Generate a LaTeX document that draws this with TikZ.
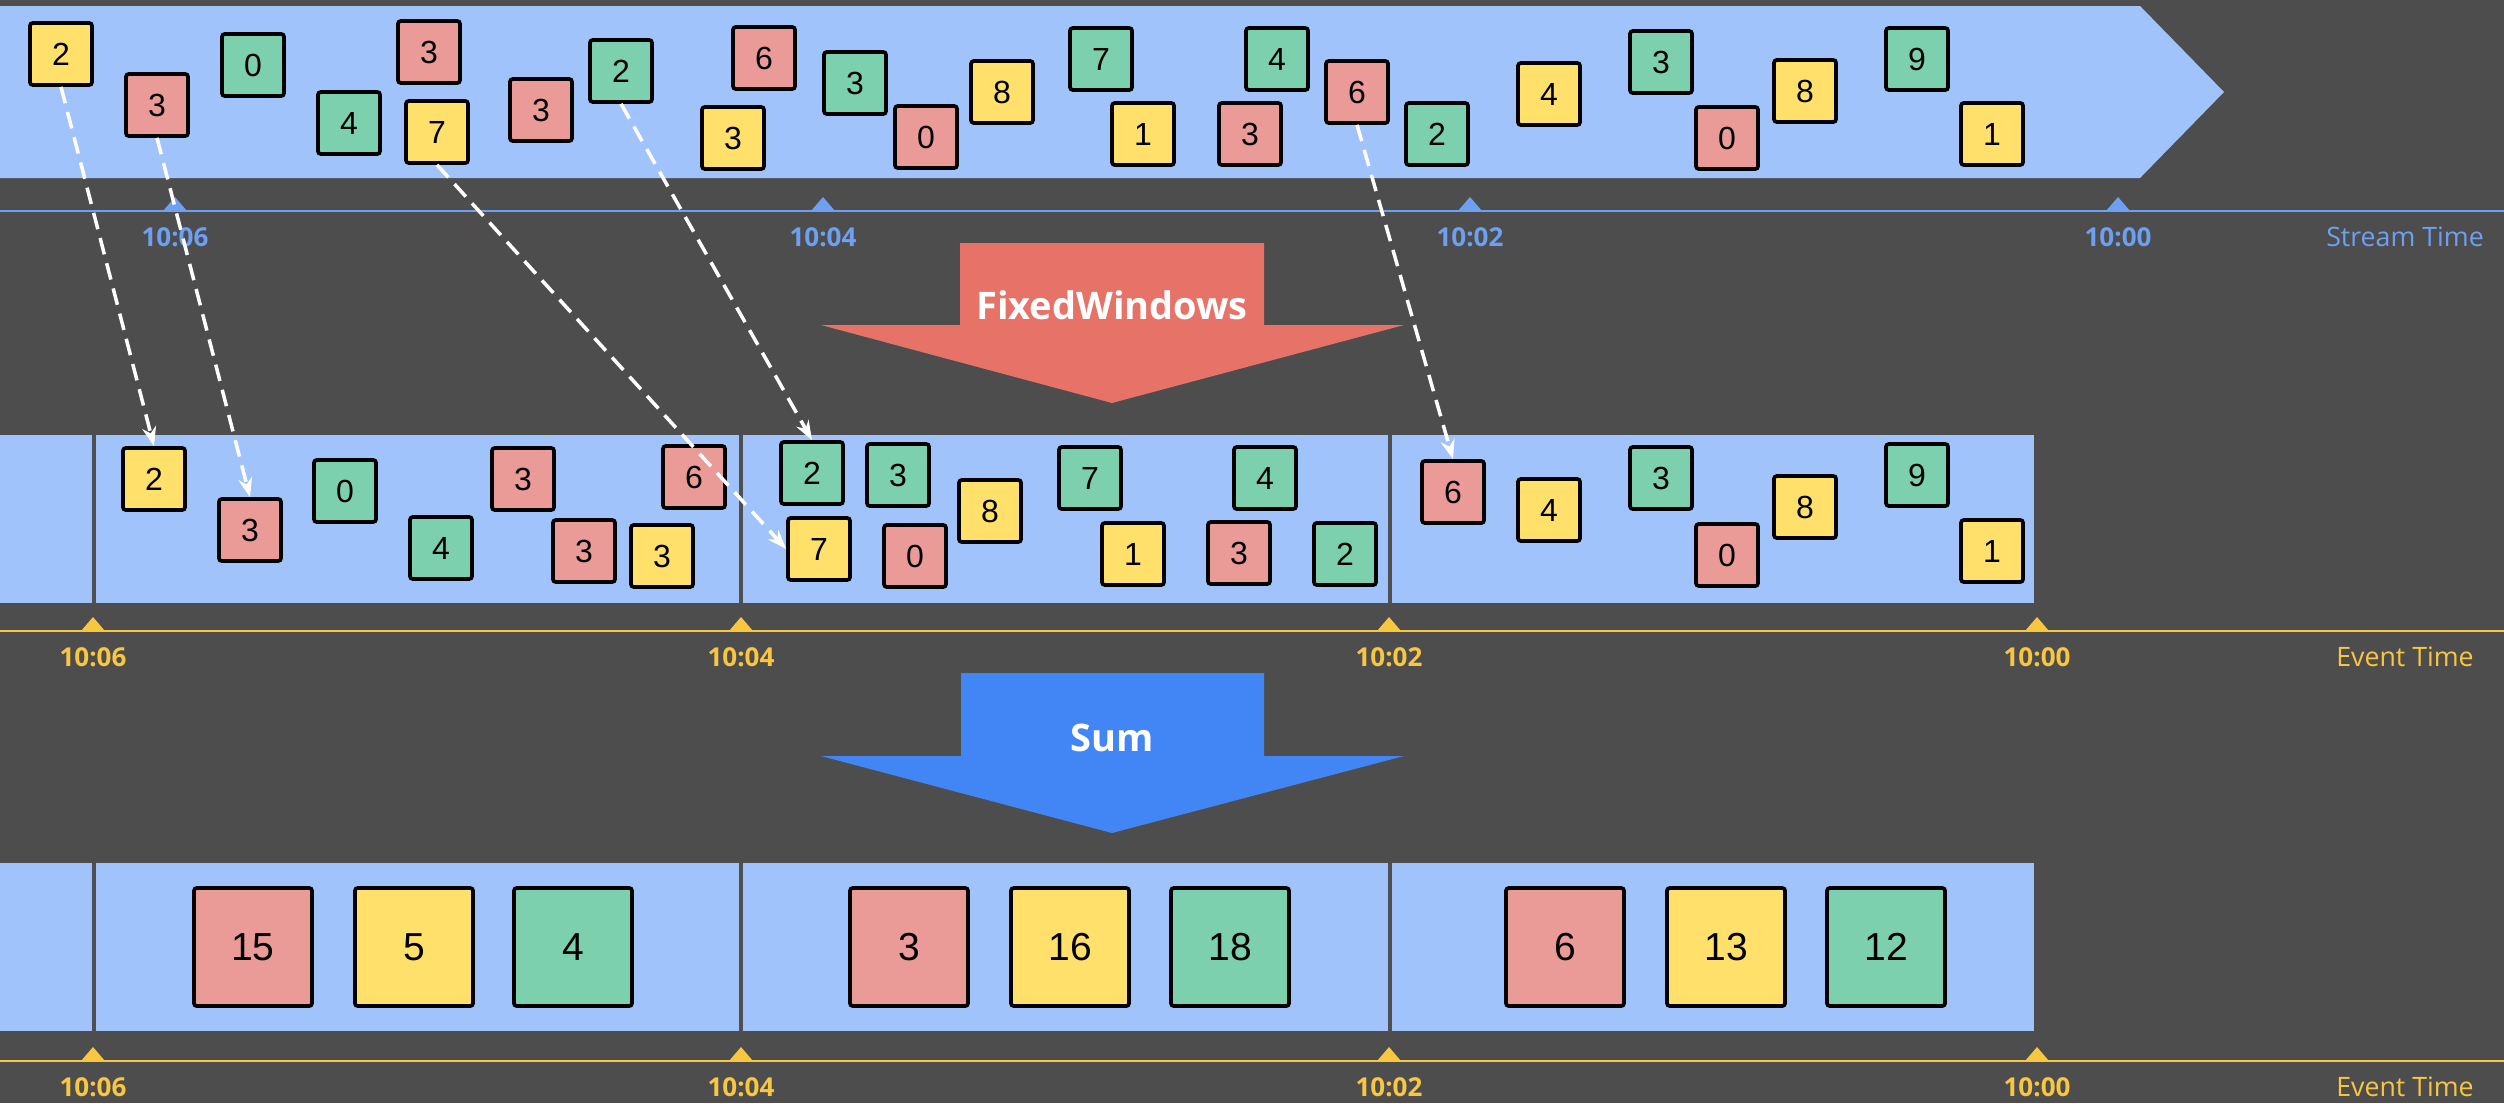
\documentclass[tikz,border=0pt]{standalone}
\usepackage{fontspec}
\setmainfont{Open Sans}
\newfontfamily\numfont{Liberation Sans}
\usetikzlibrary{arrows.meta,positioning}

\definecolor{canvas}{HTML}{4D4D4D}
\definecolor{band}{HTML}{A1C3FB}
\definecolor{divider}{HTML}{4F4F4F}
\definecolor{streamc}{HTML}{6EA0F2}
\definecolor{eventc}{HTML}{F8C640}
\definecolor{boxred}{HTML}{EA9B97}
\definecolor{boxyellow}{HTML}{FFE06A}
\definecolor{boxgreen}{HTML}{7DD0AD}
\definecolor{winarrow}{HTML}{E67268}
\definecolor{sumarrow}{HTML}{4285F4}

\begin{document}
\begin{tikzpicture}[
      x=0.01cm, y=-0.01cm,
      elem/.style={draw=black, line width=1.05pt, rounded corners=0.8pt,
        minimum size=0.62cm, inner sep=0,
        font={\numfont\fontsize{9.1}{10}\selectfont}},
      total/.style={elem, minimum size=1.18cm,
        font={\numfont\fontsize{11.1}{12}\selectfont}},
      rd/.style={fill=boxred},
      ylw/.style={fill=boxyellow},
      grn/.style={fill=boxgreen},
      tick/.style={inner sep=0, font={\bfseries\fontsize{7.4}{9}\selectfont}},
      axisname/.style={inner sep=0, font={\fontsize{7.6}{9}\selectfont}},
      stage/.style={text=white, inner sep=0, font={\bfseries\fontsize{10.8}{12}\selectfont}},
      divide/.style={draw=divider, line width=1pt},
      move/.style={draw=white, line width=1pt, dash pattern=on 4.8pt off 2.6pt,
        -{Stealth[length=5.5pt,width=4pt]}}
  ]
  \useasboundingbox (0,0) rectangle (2504,1103);
  \fill[canvas] (0,0) rectangle (2504,1103);

  % stream, windowed and summed bands
  \fill[band] (0,6) -- (2140,6) -- (2224,92) -- (2140,178) -- (0,178) -- cycle;
  \fill[band] (0,435) rectangle (2034,603);
  \fill[band] (0,863) rectangle (2034,1031);
  \foreach \d in {94,741,1390} {
    \draw[divide] (\d,435) -- (\d,603);
    \draw[divide] (\d,863) -- (\d,1031);
  }

  % processing time axis
  \draw[streamc, line width=0.8pt] (0,211) -- (2504,211);
  \foreach \t/\lab [count=\i] in {175/10:06, 823/10:04, 1470/10:02, 2118/10:00} {
    \fill[streamc] ({\t-12},211) -- (\t,197) -- ({\t+12},211) -- cycle;
    \node[tick, text=streamc] (st\i) at (\t,237) {\lab};
  }
  \node[axisname, text=streamc] (stream) at (2405,237) {Stream Time};

  % event time axes
  \foreach \row/\ay in {a/631, b/1061} {
    \draw[eventc, line width=0.8pt] (0,\ay) -- (2504,\ay);
    \foreach \t/\lab [count=\i] in {93/10:06, 741/10:04, 1389/10:02, 2037/10:00} {
      \fill[eventc] ({\t-12},\ay) -- (\t,{\ay-14}) -- ({\t+12},\ay) -- cycle;
      \node[tick, text=eventc] (ev\row\i) at (\t,{\ay+26}) {\lab};
    }
    \node[axisname, text=eventc] (event\row) at (2405,{\ay+26}) {Event Time};
  }

  % transforms
  \fill[winarrow] (960,243) -- (1264,243) -- (1264,325) -- (1404,325)
    -- (1112,403) -- (821,325) -- (960,325) -- cycle;
  \node[stage] (fixed) at (1112,305) {FixedWindows};
  \fill[sumarrow] (961,673) -- (1264,673) -- (1264,756) -- (1404,756)
    -- (1112,833) -- (821,756) -- (961,756) -- cycle;
  \node[stage] (sum) at (1112,738) {Sum};

  % elements in arrival order
  \foreach \n/\c/\v/\px/\py in {
      t1/ylw/2/61/54, t2/rd/3/157/105, t3/grn/0/253/65, t4/grn/4/349/123,
      t5/rd/3/429/52, t6/ylw/7/437/132, t7/rd/3/541/110, t8/grn/2/621/71,
      t9/rd/6/764/58, t10/ylw/3/733/138, t11/grn/3/855/83, t12/rd/0/926/137,
      t13/ylw/8/1002/92, t14/grn/7/1101/59, t15/ylw/1/1143/134, t16/rd/3/1250/134,
      t17/grn/4/1277/59, t18/rd/6/1357/92, t19/grn/2/1437/134, t20/ylw/4/1549/94,
      t21/grn/3/1661/62, t22/rd/0/1727/138, t23/ylw/8/1805/91, t24/grn/9/1917/59,
      t25/ylw/1/1992/134}
    \node[elem,\c] (\n) at (\px,\py) {\v};

  % elements placed in their windows
  \foreach \n/\c/\v/\px/\py in {
      m1/ylw/2/154/479, m2/rd/3/250/530, m3/grn/0/345/491, m4/grn/4/441/548,
      m5/rd/3/523/479, m6/rd/3/584/551, m7/ylw/3/662/556, m8/rd/6/694/477,
      m9/grn/2/812/473, m10/grn/3/898/475, m11/ylw/7/819/549, m12/rd/0/915/556,
      m13/ylw/8/990/511, m14/grn/7/1090/478, m15/ylw/1/1133/554, m16/rd/3/1239/553,
      m17/grn/4/1265/478, m18/grn/2/1345/554, m19/rd/6/1453/492, m20/ylw/4/1549/510,
      m21/grn/3/1661/478, m22/rd/0/1727/555, m23/ylw/8/1805/507, m24/grn/9/1917/475,
      m25/ylw/1/1992/551}
    \node[elem,\c] (\n) at (\px,\py) {\v};

  % per-window sums
  \foreach \n/\c/\v/\px in {
      b1/rd/15/253, b2/ylw/5/414, b3/grn/4/573,
      b4/rd/3/909, b5/ylw/16/1070, b6/grn/18/1230,
      b7/rd/6/1565, b8/ylw/13/1726, b9/grn/12/1886}
    \node[total,\c] (\n) at (\px,947) {\v};

  % some elements followed into their windows
  \draw[move] (t1.south) -- (m1.north);
  \draw[move] (t2.south) -- (m2.north);
  \draw[move] (t6.south) -- (m11.west);
  \draw[move] (t8.south) -- (m9.north);
  \draw[move] (t18.south) -- (m19.north);

\end{tikzpicture}
\end{document}
